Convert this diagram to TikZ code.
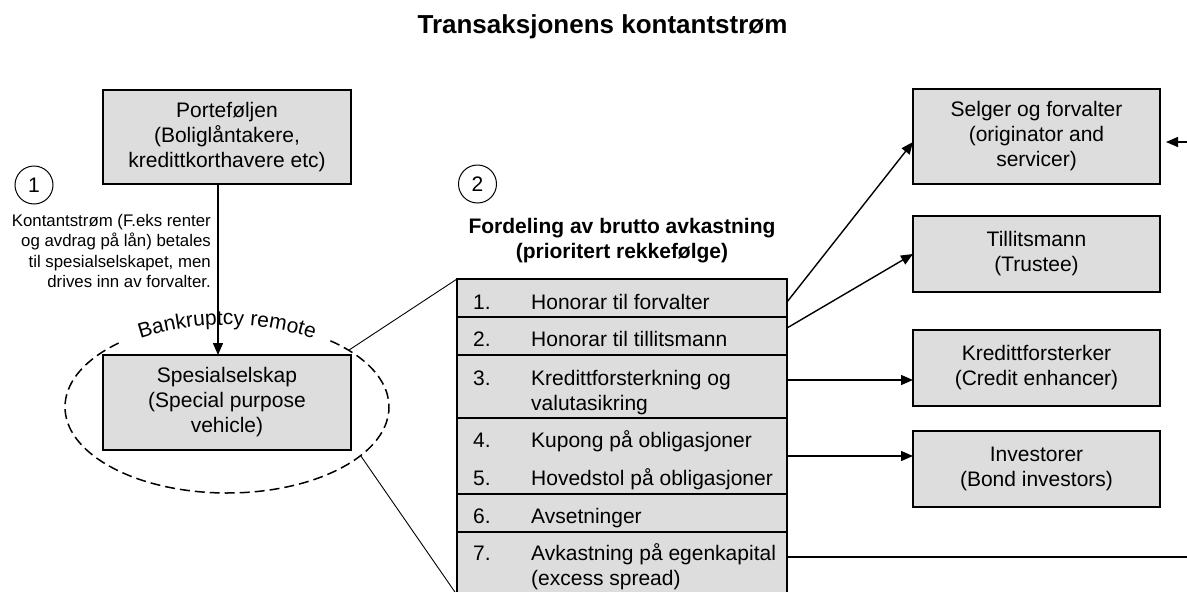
\documentclass[tikz,border=0pt]{standalone}
\usepackage{fontspec}
\setmainfont{Liberation Sans}
\usetikzlibrary{arrows.meta,shapes.geometric,decorations.text}
\definecolor{boxgray}{HTML}{DDDDDD}
\begin{document}
\begin{tikzpicture}[x=1pt,y=1pt,
  box/.style={draw=black, line width=1.3pt, fill=boxgray, align=center, inner sep=0pt, outer sep=0pt, font=\fontsize{21}{25}\selectfont},
  rowbox/.style={draw=black, line width=1.3pt, fill=boxgray, minimum width=330, inner sep=0pt, outer sep=0pt},
  rowtxt/.style={font=\fontsize{21}{24.5}\selectfont, inner sep=0pt, anchor=base west, align=left},
  numc/.style={circle, draw=black, line width=1pt, minimum size=38, inner sep=0pt, font=\fontsize{21}{21}\selectfont},
  arr/.style={line width=1.4pt, -{Triangle[length=12pt,width=10pt]}},
  thinline/.style={line width=0.9pt},
]
\useasboundingbox (0,0) rectangle (1187,-592);
\clip (0,0) rectangle (1187,-592);

% title
\node[font=\fontsize{26}{26}\selectfont\bfseries, inner sep=0pt] (title) at (602.5,-27) {Transaksjonens kontantstrøm};

% left boxes
\node[box, minimum width=248, minimum height=94] (port) at (227,-137) {Porteføljen\\(Boliglåntakere,\\kredittkorthavere etc)};
\node[box, minimum width=248, minimum height=95] (spv) at (227,-402.5) {Spesialselskap\\(Special purpose\\vehicle)};

% circles
\node[numc] (c1) at (34,-185) {1};
\node[numc] (c2) at (477.5,-184) {2};

% annotation
\node[font=\fontsize{16.8}{20.3}\selectfont, align=right, inner sep=0pt, anchor=east] (note) at (211,-251)
  {Kontantstrøm (F.eks renter\\og avdrag på lån) betales\\til spesialselskapet, men\\drives inn av forvalter.};

% heading
\node[font=\fontsize{21}{25}\selectfont\bfseries, align=center, inner sep=0pt] (head) at (622,-241)
  {Fordeling av brutto avkastning\\(prioritert rekkefølge)};

% ellipse (bankruptcy remote)
\node[ellipse, minimum width=324, minimum height=172, inner sep=0pt, outer sep=0pt, draw=none] (ell) at (227,-407) {};
\draw[line width=1.5pt, dash pattern=on 10pt off 5pt] (ell.center) ++(132:162 and 86)
  arc[start angle=132, end angle=410.5, x radius=162, y radius=86];
\coordinate (arcc) at (227,-605);
\path[decorate, decoration={text along path, text align=center,
   text={|\fontsize{21}{21}\selectfont|Bankruptcy remote}}]
  (arcc) ++(111:280) arc[start angle=111, end angle=69, radius=280];

% arrow portefolje -> spv
\draw[arr] ([xshift=-9pt]port.south) -- ([xshift=-9pt]spv.north);

% table rows
\node[rowbox, minimum height=38] (r1) at (622,-298) {};
\node[rowbox, minimum height=38] (r2) at (622,-336) {};
\node[rowbox, minimum height=63] (r3) at (622,-386.5) {};
\node[rowbox, minimum height=76] (r45) at (622,-456) {};
\node[rowbox, minimum height=38] (r6) at (622,-513) {};
\node[rowbox, minimum height=63] (r7) at (622,-563.5) {};

\node[rowtxt] (n1) at (473,-309.5) {1.};
\node[rowtxt] (t1) at (531,-309.5) {Honorar til forvalter};
\node[rowtxt] (n2) at (473,-346.5) {2.};
\node[rowtxt] (t2) at (531,-346.5) {Honorar til tillitsmann};
\node[rowtxt] (n3) at (473,-385.5) {3.};
\node[rowtxt] (t3a) at (531,-385.5) {Kredittforsterkning og};
\node[rowtxt] (t3b) at (531,-410) {valutasikring};
\node[rowtxt] (n4) at (473,-447.5) {4.};
\node[rowtxt] (t4) at (531,-447.5) {Kupong på obligasjoner};
\node[rowtxt] (n5) at (473,-485.5) {5.};
\node[rowtxt] (t5) at (531,-485.5) {Hovedstol på obligasjoner};
\node[rowtxt] (n6) at (473,-523.5) {6.};
\node[rowtxt] (t6) at (531,-523.5) {Avsetninger};
\node[rowtxt] (n7) at (473,-560.5) {7.};
\node[rowtxt] (t7a) at (531,-560.5) {Avkastning på egenkapital};
\node[rowtxt] (t7b) at (531,-585) {(excess spread)};

% lines spv -> table
\draw[thinline] (ell.25.8) -- (r1.north west);
\draw[thinline] (ell.-20.2) -- (r7.south west);

% right boxes
\node[box, minimum width=247, minimum height=95] (selger) at (1036.5,-136.5) {Selger og forvalter\\(originator and\\servicer)};
\node[box, minimum width=247, minimum height=76] (trust) at (1036.5,-254) {Tillitsmann\\(Trustee)};
\node[box, minimum width=247, minimum height=76] (kred) at (1036.5,-368) {Kredittforsterker\\(Credit enhancer)};
\node[box, minimum width=247, minimum height=76] (inv) at (1036.5,-469) {Investorer\\(Bond investors)};

% arrows table -> right boxes
\draw[arr] ([yshift=-4pt]r1.east) -- ([yshift=-5.5pt]selger.west);
\draw[arr] ([yshift=8pt]r2.east) -- (trust.west);
\draw[arr] ([yshift=6.5pt]r3.east) -- ([yshift=-12pt]kred.west);
\draw[arr] (r45.east) -- ([yshift=13pt]inv.west);

\coordinate (edge7) at (1190,-557);
\draw[line width=1.2pt] ([yshift=6.5pt]r7.east) -- (edge7);
\coordinate (edgeS) at (1190,-142);
\draw[arr, shorten >=6pt] (edgeS) -- ([yshift=-5.5pt]selger.east);
\end{tikzpicture}
\end{document}
